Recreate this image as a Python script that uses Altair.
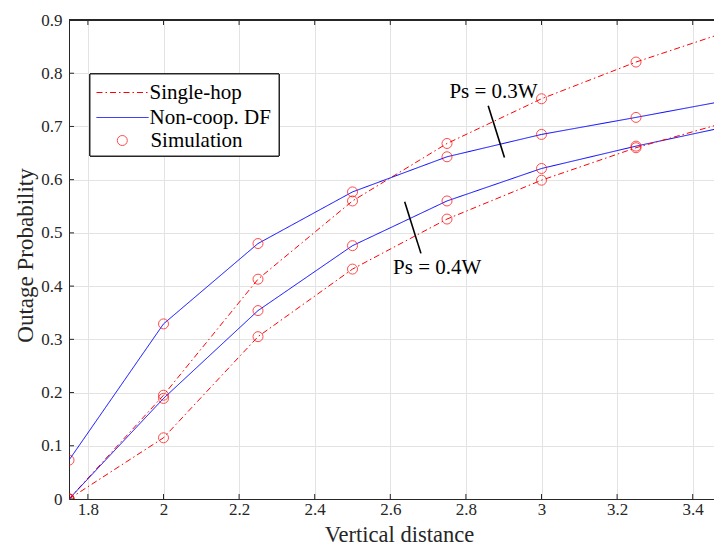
import altair as alt
import pandas as pd

# ---- data ----
x_vals = [1.75, 2.0, 2.25, 2.5, 2.75, 3.0, 3.25, 3.5]
single_hop_03 = [0.0, 0.195, 0.413, 0.560, 0.668, 0.752, 0.821, 0.880]
noncoop_03 = [0.073, 0.329, 0.480, 0.577, 0.643, 0.685, 0.717, 0.750]
noncoop_04 = [0.0, 0.189, 0.354, 0.476, 0.560, 0.621, 0.663, 0.701]
single_hop_04 = [0.0, 0.115, 0.305, 0.432, 0.526, 0.599, 0.660, 0.710]

x_ticks = [1.8, 2.0, 2.2, 2.4, 2.6, 2.8, 3.0, 3.2, 3.4]
y_ticks = [0, 0.1, 0.2, 0.3, 0.4, 0.5, 0.6, 0.7, 0.8, 0.9]

line_domain = ["Single-hop", "Non-coop. DF"]
line_colors = ["#ff0000", "#0000ff"]
line_dashes = [[6, 3, 1.5, 3], [1, 0]]
sim_label = "Simulation"

ann_labels = ["Ps = 0.3W", "Ps = 0.4W"]
ann_text_x = [2.873, 2.724]
ann_text_y = [0.7537, 0.4229]
ann_x1 = [2.859, 2.638]
ann_y1 = [0.7387, 0.5585]
ann_x2 = [2.902, 2.681]
ann_y2 = [0.6417, 0.4615]

# ---- tables ----
curves = [
    ("Single-hop", "sh03", single_hop_03),
    ("Non-coop. DF", "df03", noncoop_03),
    ("Non-coop. DF", "df04", noncoop_04),
    ("Single-hop", "sh04", single_hop_04),
]
rows = []
for series, grp, ys in curves:
    for xv, yv in zip(x_vals, ys):
        rows.append({"x": xv, "y": yv, "series": series, "grp": grp})
lines_df = pd.DataFrame(rows)
pts_df = lines_df.assign(series=sim_label)

ann_df = pd.DataFrame({"label": ann_labels, "tx": ann_text_x, "ty": ann_text_y,
                       "x1": ann_x1, "y1": ann_y1, "x2": ann_x2, "y2": ann_y2})
xt_df = pd.DataFrame({"v": x_ticks})
yt_df = pd.DataFrame({"v": y_ticks})

W, H = 645, 479
FONT = "Liberation Serif"
AX = "#262626"

xscale = alt.Scale(domain=[1.75, 3.4563], nice=False, zero=False)
yscale = alt.Scale(domain=[0, 0.9], nice=False, zero=False)

legend_lines = alt.Legend(
    title=None, orient="none", legendX=27, legendY=62, padding=0,
    labelFont=FONT, labelFontSize=21, labelColor="black",
    rowPadding=3, symbolStrokeWidth=1, labelOffset=0.5,
    symbolType="stroke", symbolSize=2704, clipHeight=21,
)
legend_sim = alt.Legend(
    title=None, orient="none", legendX=42.8, legendY=110, padding=0,
    labelFont=FONT, labelFontSize=21, labelColor="black",
    symbolStrokeWidth=1, labelOffset=17.6, symbolType="circle",
    symbolSize=100, clipHeight=21, symbolStrokeColor="#ff0000",
    symbolFillColor="transparent",
)

x_axis = alt.Axis(values=x_ticks, format="~g", grid=True, gridColor="#e3e3e3",
                  ticks=False, domainColor=AX, labelFont=FONT, labelFontSize=17,
                  labelColor=AX, labelPadding=2.5, title="Vertical distance",
                  titleFont=FONT, titleFontSize=22.5, titleFontWeight="normal",
                  titleColor=AX, titleX=330, titleY=42.1, titleBaseline="alphabetic",
                  titleAlign="center")
y_axis = alt.Axis(values=y_ticks, format="~g", grid=True, gridColor="#e3e3e3",
                  ticks=False, domainColor=AX, labelFont=FONT, labelFontSize=17,
                  labelColor=AX, labelPadding=7, title="Outage Probability",
                  titleFont=FONT, titleFontSize=23, titleFontWeight="normal",
                  titleColor=AX, titleX=-36.5, titleY=235, titleBaseline="alphabetic",
                  titleAlign="center", titleAngle=270)

lines = alt.Chart(lines_df).mark_line(clip=True, strokeWidth=1).encode(
    x=alt.X("x:Q", scale=xscale, axis=x_axis),
    y=alt.Y("y:Q", scale=yscale, axis=y_axis),
    color=alt.Color("series:N", scale=alt.Scale(domain=line_domain, range=line_colors),
                    legend=legend_lines),
    strokeDash=alt.StrokeDash("series:N", scale=alt.Scale(domain=line_domain, range=line_dashes),
                              legend=legend_lines),
    detail="grp:N",
)

points = alt.Chart(pts_df).mark_point(clip=True, filled=False, strokeWidth=1,
                                      size=100, color="#ff0000").encode(
    x=alt.X("x:Q", scale=xscale, axis=x_axis),
    y=alt.Y("y:Q", scale=yscale, axis=y_axis),
    shape=alt.Shape("series:N", scale=alt.Scale(domain=[sim_label], range=["circle"]),
                    legend=legend_sim),
)

ann_rules = alt.Chart(ann_df).mark_rule(color="black", strokeWidth=1.6).encode(
    x=alt.X("x1:Q", scale=xscale, axis=x_axis),
    y=alt.Y("y1:Q", scale=yscale, axis=y_axis),
    x2="x2:Q", y2="y2:Q",
)
ann_text = alt.Chart(ann_df).mark_text(font=FONT, fontSize=21, color="black",
                                       align="center", baseline="alphabetic").encode(
    x=alt.X("tx:Q", scale=xscale, axis=x_axis),
    y=alt.Y("ty:Q", scale=yscale, axis=y_axis),
    text="label:N",
)

bottom_ticks = alt.Chart(xt_df).mark_rule(color=AX, strokeWidth=1).encode(
    x=alt.X("v:Q", scale=xscale, axis=x_axis), y=alt.value(H), y2=alt.value(H - 5))
top_ticks = alt.Chart(xt_df).mark_rule(color=AX, strokeWidth=1).encode(
    x=alt.X("v:Q", scale=xscale, axis=x_axis), y=alt.value(0), y2=alt.value(5))
left_ticks = alt.Chart(yt_df).mark_rule(color=AX, strokeWidth=1).encode(
    y=alt.Y("v:Q", scale=yscale, axis=y_axis), x=alt.value(0), x2=alt.value(5))
top_border = alt.Chart(xt_df).mark_rule(color=AX, strokeWidth=1).encode(
    x=alt.value(0), x2=alt.value(W), y=alt.value(0))
legend_box = alt.Chart(xt_df).mark_rect(fill="white", stroke=AX, strokeWidth=1).encode(
    x=alt.value(21), x2=alt.value(210), y=alt.value(54), y2=alt.value(136))

chart = alt.layer(lines, points, ann_rules, ann_text, bottom_ticks, top_ticks,
                  left_ticks, top_border, legend_box).properties(
    width=W, height=H, autosize="none",
    padding={"left": 61, "top": 12, "right": 0, "bottom": 47},
    background="white",
).configure_view(stroke=None)

chart.save("out.html", embed_options={"renderer": "svg", "actions": False})
